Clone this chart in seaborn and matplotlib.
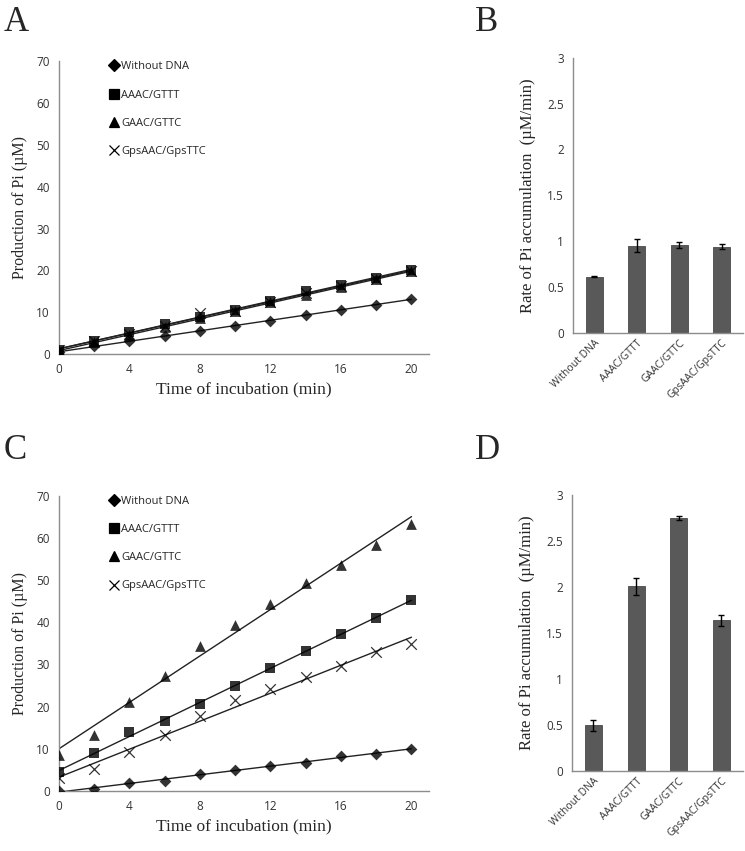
import numpy as np
import pandas as pd
import seaborn as sns
import matplotlib
matplotlib.use("Agg")
import matplotlib.pyplot as plt
from matplotlib.lines import Line2D
from matplotlib.ticker import FuncFormatter, FixedLocator

# ---- data ----
time_min = [0, 2, 4, 6, 8, 10, 12, 14, 16, 18, 20]
series_names = ["Without DNA", "AAAC/GTTT", "GAAC/GTTC", "GpsAAC/GpsTTC"]

# panel A
a_without = [0.5, 1.8, 3.1, 4.3, 5.6, 6.8, 8.0, 9.3, 10.5, 11.8, 13.2]
a_aaac = [1.0, 3.2, 5.2, 7.1, 8.8, 10.5, 12.7, 15.0, 16.6, 18.2, 20.0]
a_gaac = [0.8, 2.8, 4.5, 6.5, 8.5, 10.2, 12.5, 14.0, 16.0, 17.9, 19.8]
a_gps = [1.0, 3.0, 4.9, 6.8, 9.8, 10.3, 12.4, 14.5, 16.3, 18.0, 19.9]

# panel C
c_without = [0.0, 0.5, 1.9, 2.4, 4.0, 5.0, 6.0, 6.7, 8.3, 8.8, 10.0]
c_aaac = [4.4, 8.9, 14.1, 16.6, 20.7, 24.8, 29.1, 33.2, 37.3, 41.0, 45.3]
c_gaac = [8.5, 13.2, 21.2, 27.3, 34.4, 39.3, 44.3, 49.3, 53.5, 58.4, 63.3]
c_gps = [3.1, 5.2, 9.2, 13.2, 17.7, 21.5, 24.2, 27.0, 29.6, 33.0, 34.8]

# panel B and D (rate of accumulation)
b_rate = [0.61, 0.95, 0.96, 0.94]
b_err = [0.005, 0.07, 0.03, 0.03]
d_rate = [0.50, 2.01, 2.75, 1.64]
d_err = [0.06, 0.09, 0.02, 0.06]

markers = ["D", "s", "^", "x"]
marker_sizes = [36, 62, 60, 58]

sns.set_theme(style="white")
plt.rcParams["font.family"] = ["Open Sans", "DejaVu Sans"]

SERIF = "Liberation Serif"
AXIS_GREY = "#8c8c8c"
BAR_GREY = "#595959"

fig = plt.figure(figsize=(7.45, 8.51), dpi=100)


def style_axes(ax):
    sns.despine(ax=ax)
    for side in ["left", "bottom"]:
        ax.spines[side].set_color(AXIS_GREY)
        ax.spines[side].set_linewidth(1.0)
    ax.tick_params(axis="both", which="both", colors=AXIS_GREY, labelcolor="#333333",
                   labelsize=8.5, length=3, width=0.9, direction="out")


def line_panel(ax, series):
    for ys, name, m, s in zip(series, series_names, markers, marker_sizes):
        df = pd.DataFrame({"t": time_min, "pi": ys})
        lw = 0.9 if m == "x" else 0
        sns.regplot(data=df, x="t", y="pi", ax=ax, ci=None, truncate=True,
                    marker=m,
                    scatter_kws={"s": s, "color": "black", "linewidths": lw, "zorder": 3},
                    line_kws={"color": "#222222", "linewidth": 1.0, "zorder": 2})
    ax.set_xlim(0, 21)
    ax.set_ylim(0, 70)
    ax.set_xticks([0, 4, 8, 12, 16, 20])
    ax.set_yticks(range(0, 71, 10))
    ax.set_xlabel("Time of incubation (min)", family=SERIF, fontsize=12.5, labelpad=4)
    ax.set_ylabel("Production of Pi (\u00b5M)", family=SERIF, fontsize=11.5, labelpad=6)
    style_axes(ax)
    handles = [Line2D([], [], linestyle="none", marker=m, color="black",
                      markersize=7 if m != "D" else 6, markeredgewidth=0.9)
               for m in markers]
    ax.legend(handles, series_names, loc="upper left", bbox_to_anchor=(0.125, 1.015),
              frameon=False, fontsize=8, handlelength=0.8, handletextpad=0.25,
              labelspacing=1.55, borderaxespad=0)


def bar_panel(ax, rates, errs):
    df = pd.DataFrame({"cond": series_names, "rate": rates})
    sns.barplot(data=df, x="cond", y="rate", ax=ax, color=BAR_GREY, width=0.4,
                saturation=1, edgecolor="#4a4a4a", linewidth=0.6)
    ax.errorbar(range(len(rates)), rates, yerr=errs, fmt="none", ecolor="black",
                elinewidth=1.0, capsize=2.5, capthick=1.0)
    ax.set_xlim(-0.5, 3.5)
    ax.set_ylim(0, 3)
    ax.set_yticks([0, 0.5, 1, 1.5, 2, 2.5, 3])
    ax.yaxis.set_major_formatter(FuncFormatter(lambda v, p: f"{v:g}"))
    ax.set_xlabel("")
    ax.set_ylabel("Rate of Pi accumulation  (\u00b5M/min)", family=SERIF, fontsize=12,
                  labelpad=8)
    style_axes(ax)
    ax.xaxis.set_minor_locator(FixedLocator([0.5, 1.5, 2.5, 3.5]))
    ax.tick_params(axis="x", which="major", length=0)
    ax.tick_params(axis="x", which="minor", length=4)
    for lab in ax.get_xticklabels():
        lab.set_rotation(45)
        lab.set_ha("right")
        lab.set_rotation_mode("anchor")
        lab.set_fontsize(7.5)


ax_a = fig.add_axes([0.079, 0.584, 0.497, 0.344])
ax_b = fig.add_axes([0.769, 0.609, 0.228, 0.323])
ax_c = fig.add_axes([0.079, 0.0705, 0.497, 0.347])
ax_d = fig.add_axes([0.768, 0.094, 0.229, 0.324])

line_panel(ax_a, [a_without, a_aaac, a_gaac, a_gps])
line_panel(ax_c, [c_without, c_aaac, c_gaac, c_gps])
bar_panel(ax_b, b_rate, b_err)
bar_panel(ax_d, d_rate, d_err)

for letter, (x, y) in zip("ABCD", [(0.005, 0.993), (0.637, 0.993), (0.005, 0.49), (0.637, 0.49)]):
    fig.text(x, y, letter, family=SERIF, fontsize=25, va="top", ha="left")

fig.savefig("out.png", dpi=100)
